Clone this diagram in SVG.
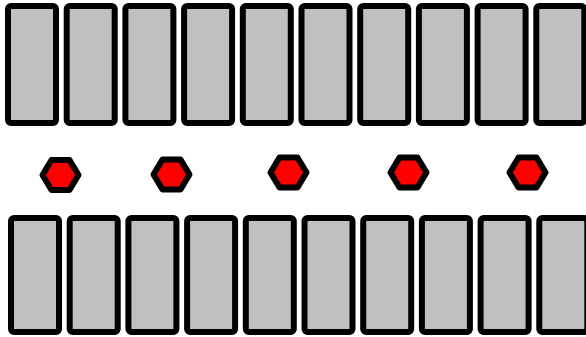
<svg xmlns="http://www.w3.org/2000/svg" width="586" height="337" viewBox="0 0 586 337">
<style>
.r{fill:#c0c0c0;stroke:#000;stroke-width:6}
.h{fill:#ff0000;stroke:#000;stroke-width:6;stroke-linejoin:round}
</style>
<defs>
<rect id="rt" class="r" x="0" y="0" width="48" height="117" rx="3"/>
<rect id="rb" class="r" x="0" y="0" width="48" height="114" rx="3"/>
<polygon id="hx" class="h" points="-18,0 -9,-15 9,-15 18,0 9,15 -9,15"/>
</defs>
<rect width="586" height="337" fill="#fff"/>
<g id="top-row">
<use id="t1" href="#rt" x="8" y="6"/>
<use id="t2" href="#rt" x="66.7" y="6"/>
<use id="t3" href="#rt" x="125.4" y="6"/>
<use id="t4" href="#rt" x="184.1" y="6"/>
<use id="t5" href="#rt" x="242.8" y="6"/>
<use id="t6" href="#rt" x="301.5" y="6"/>
<use id="t7" href="#rt" x="360.2" y="6"/>
<use id="t8" href="#rt" x="418.9" y="6"/>
<use id="t9" href="#rt" x="477.6" y="6"/>
<use id="t10" href="#rt" x="536.3" y="6"/>
</g>
<g id="hexes">
<use id="h1" href="#hx" x="60.5" y="175"/>
<use id="h2" href="#hx" x="171.5" y="174.5"/>
<use id="h3" href="#hx" x="288.5" y="172.5"/>
<use id="h4" href="#hx" x="408.5" y="172.5"/>
<use id="h5" href="#hx" x="527.5" y="172.5"/>
</g>
<g id="bottom-row">
<use id="b1" href="#rb" x="11" y="218"/>
<use id="b2" href="#rb" x="69.7" y="218"/>
<use id="b3" href="#rb" x="128.4" y="218"/>
<use id="b4" href="#rb" x="187.1" y="218"/>
<use id="b5" href="#rb" x="245.8" y="218"/>
<use id="b6" href="#rb" x="304.5" y="218"/>
<use id="b7" href="#rb" x="363.2" y="218"/>
<use id="b8" href="#rb" x="421.9" y="218"/>
<use id="b9" href="#rb" x="480.6" y="218"/>
<use id="b10" href="#rb" x="539.3" y="218"/>
</g>
<g id="connectors"/>
</svg>
